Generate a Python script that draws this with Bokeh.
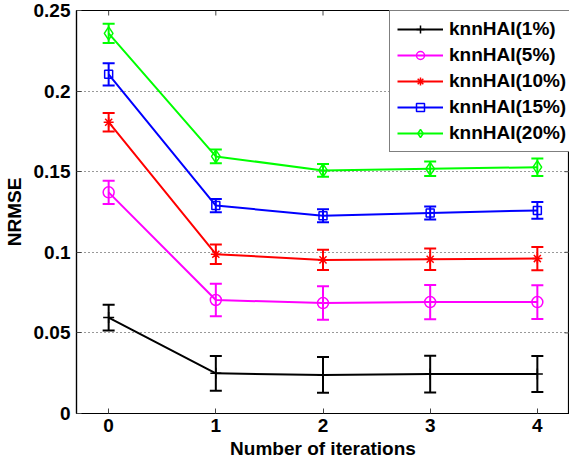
from bokeh.plotting import figure
from bokeh.models import (ColumnDataSource, Whisker, TeeHead, FixedTicker,
                          Legend, LegendItem, Range1d, CustomJSTickFormatter)
from bokeh.embed import file_html
from bokeh.resources import INLINE

iters = [0, 1, 2, 3, 4]
x_ticks = [0, 1, 2, 3, 4]
y_ticks = [0, 0.05, 0.1, 0.15, 0.2, 0.25]
x_lim = (-0.3, 4.3)
y_lim = (0, 0.25)
x_title = "Number of iterations"
y_title = "NRMSE"

names = ["knnHAI(1%)", "knnHAI(5%)", "knnHAI(10%)", "knnHAI(15%)", "knnHAI(20%)"]
knn1 = [0.0595, 0.0249, 0.0239, 0.0245, 0.0245]
err1 = [0.0080, 0.0108, 0.0111, 0.0114, 0.0112]
knn5 = [0.1372, 0.0704, 0.0685, 0.0691, 0.0691]
err5 = [0.0072, 0.0101, 0.0104, 0.0106, 0.0105]
knn10 = [0.1807, 0.0988, 0.0953, 0.0957, 0.0961]
err10 = [0.0057, 0.0060, 0.0063, 0.0067, 0.0072]
knn15 = [0.2104, 0.1290, 0.1227, 0.1244, 0.1260]
err15 = [0.0069, 0.0041, 0.0040, 0.0040, 0.0052]
knn20 = [0.2358, 0.1595, 0.1508, 0.1518, 0.1528]
err20 = [0.0060, 0.0043, 0.0040, 0.0045, 0.0054]

series = [knn1, knn5, knn10, knn15, knn20]
errors = [err1, err5, err10, err15, err20]
colors = ["#000000", "#FF00FF", "#FF0000", "#0000FF", "#00FF00"]

FONT = "Liberation Sans"
FS = "19px"

W, H = 569, 465
ML, MR, MT, MB = 66, 0, 10, 52
p = figure(width=W, height=H, output_backend="svg", toolbar_location=None,
           x_range=Range1d(*x_lim), y_range=Range1d(*y_lim),
           min_border_left=ML, min_border_right=MR, min_border_top=MT, min_border_bottom=MB)
p.background_fill_color = "white"
p.border_fill_color = "white"
p.outline_line_color = "black"
p.outline_line_width = 1.2

# grid
p.xgrid.visible = False
p.ygrid.ticker = FixedTicker(ticks=y_ticks)
p.ygrid.grid_line_color = "#333333"
p.ygrid.grid_line_dash = "1 3"
p.ygrid.grid_line_width = 1

fmt = CustomJSTickFormatter(code="return tick.toFixed(2).replace(/0+$/,'').replace(/\\.$/,'');")

for ax in p.xaxis:
    ax.ticker = FixedTicker(ticks=x_ticks)
    ax.axis_label = x_title
for ax in p.yaxis:
    ax.ticker = FixedTicker(ticks=y_ticks)
    ax.formatter = fmt
    ax.axis_label = y_title
for ax in list(p.xaxis) + list(p.yaxis):
    ax.major_tick_in = 5
    ax.major_tick_out = 0
    ax.minor_tick_in = 0
    ax.minor_tick_out = 0
    ax.axis_line_color = "black"
    ax.axis_line_width = 1.2
    ax.major_tick_line_color = "#444444"
    ax.major_label_text_font = FONT
    ax.major_label_text_font_style = "bold"
    ax.major_label_text_font_size = FS
    ax.major_label_text_color = "black"
    ax.axis_label_text_font = FONT
    ax.axis_label_text_font_style = "bold"
    ax.axis_label_text_font_size = FS
    ax.axis_label_text_color = "black"
p.xaxis.major_label_standoff = 5
p.xaxis.axis_label_standoff = 3
p.yaxis.major_label_standoff = 6
p.yaxis.axis_label_standoff = 6

fw = W - ML - MR
fh = H - MT - MB

# inward ticks on the top and right frame edges
dy = (y_lim[1] - y_lim[0]) * 5.0 / fh
dx = (x_lim[1] - x_lim[0]) * 5.0 / fw
p.segment(x0=x_ticks, y0=[y_lim[1]] * len(x_ticks), x1=x_ticks,
          y1=[y_lim[1] - dy] * len(x_ticks), line_color="#444444", line_width=1)
p.segment(x0=[x_lim[1]] * len(y_ticks), y0=y_ticks, x1=[x_lim[1] - dx] * len(y_ticks),
          y1=y_ticks, line_color="#444444", line_width=1)

items = []
for i, (vals, errs, col, name) in enumerate(zip(series, errors, colors, names)):
    src = ColumnDataSource(dict(
        x=iters, y=vals,
        lo=[v - e for v, e in zip(vals, errs)],
        hi=[v + e for v, e in zip(vals, errs)]))
    ln = p.line("x", "y", source=src, line_color=col, line_width=2)
    w = Whisker(source=src, base="x", lower="lo", upper="hi", line_color=col, line_width=2,
                upper_head=TeeHead(size=12, line_color=col, line_width=2),
                lower_head=TeeHead(size=12, line_color=col, line_width=2))
    p.add_layout(w)
    if i == 0:
        mk = p.scatter("x", "y", source=src, marker="cross", size=11, line_color=col,
                       line_width=1.5)
    elif i == 1:
        mk = p.scatter("x", "y", source=src, marker="circle", size=11, line_color=col,
                       fill_color=None, line_width=1.5)
    elif i == 2:
        mk = p.scatter("x", "y", source=src, marker="asterisk", size=10, line_color=col,
                       line_width=1.5)
    elif i == 3:
        mk = p.scatter("x", "y", source=src, marker="square", size=8, line_color=col,
                       fill_color=None, line_width=1.5)
    else:
        mk = p.scatter("x", "y", source=src, marker="diamond", size=13, line_color=col,
                       fill_color=None, line_width=1.5)
    items.append(LegendItem(label=name, renderers=[ln, mk]))

legend = Legend(items=items, location=(313, 261),
                label_text_font=FONT, label_text_font_style="bold",
                label_text_font_size=FS, label_text_color="black",
                glyph_width=46, glyph_height=20, label_height=20, label_standoff=6,
                spacing=4, padding=7, margin=0,
                border_line_color="black", border_line_width=1.5,
                background_fill_color="white", background_fill_alpha=1)
p.add_layout(legend, "center")

open("out.html", "w").write(file_html(p, INLINE))
